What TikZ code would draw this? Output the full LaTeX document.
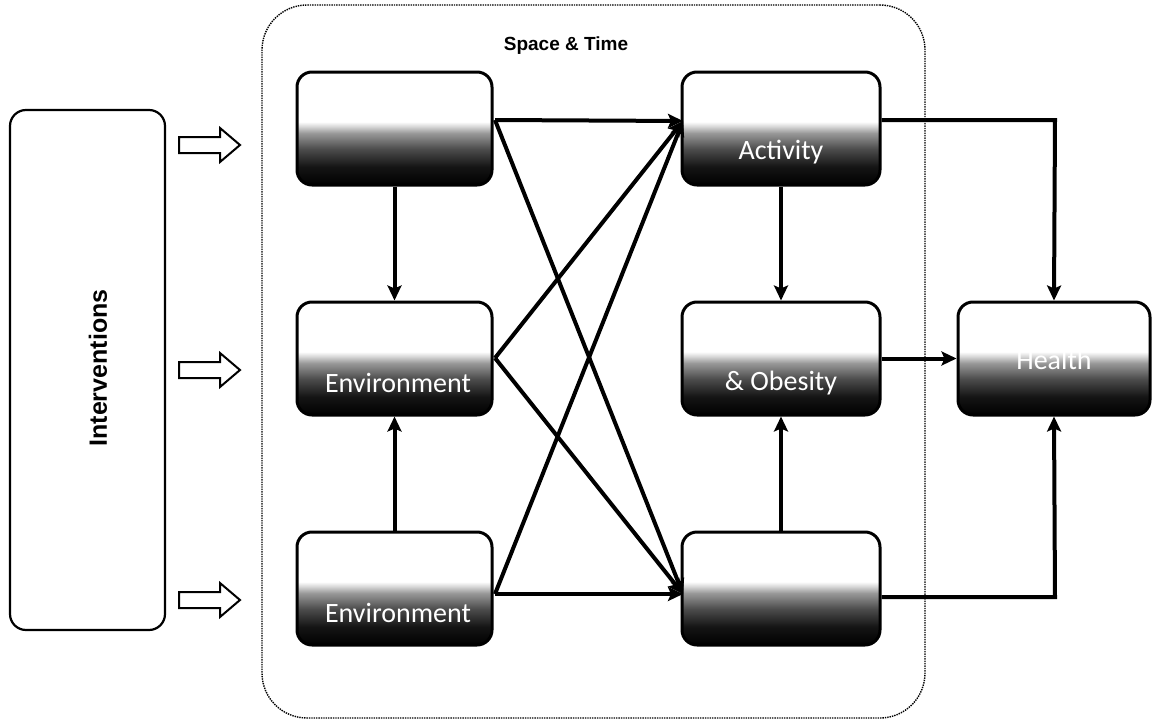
\documentclass[tikz,border=0pt]{standalone}
\usepackage{fontspec}
\setmainfont{Liberation Sans}
\newfontfamily\boxfont{Carlito}
\usetikzlibrary{arrows.meta}
\pgfdeclareverticalshading{boxshade}{100bp}{color(0bp)=(black); color(25bp)=(black); color(33bp)=(black!92); color(41bp)=(black!70); color(48bp)=(black!40); color(51bp)=(black!15); color(53bp)=(white); color(100bp)=(white)}
\begin{document}
\begin{tikzpicture}[x=1pt,y=-1pt,
  gbox/.style={draw=black, line width=3pt, rounded corners=15pt, shading=boxshade, minimum height=113pt, inner sep=0pt},
  lbl/.style={text=white, font=\boxfont\fontsize{28}{30}\selectfont, inner sep=0pt},
  conn/.style={line width=4pt, -{Stealth[length=15pt,width=14pt,inset=3pt]}},
  barrow/.style={draw=black, line width=2pt, fill=white, line join=miter}
]
\useasboundingbox (0,0) rectangle (1160,728);
% outer space & time frame
\node[draw=black, densely dotted, line width=1.4pt, rounded corners=45pt, minimum width=663pt, minimum height=713pt] (frame) at (593.5,361.5) {};
\node[font=\bfseries\fontsize{19}{21}\selectfont] (st) at (566,46) {Space \& Time};
% interventions
\node[draw=black, line width=2.2pt, rounded corners=16pt, minimum width=155pt, minimum height=520pt] (int) at (87.5,370) {};
\node[rotate=90, font=\bfseries\fontsize{25}{27}\selectfont] (intl) at (98,368) {Interventions};
% block arrows
\foreach \yy/\nm in {145/ba1,370/ba2,600/ba3}{
  \draw[barrow] (179,\yy-8) -- (220,\yy-8) -- (220,\yy-17) -- (240,\yy) -- (220,\yy+17) -- (220,\yy+8) -- (179,\yy+8) -- cycle;
}
% left column
\node[gbox, minimum width=195pt] (L1) at (394.5,128.5) {};
\node[gbox, minimum width=195pt] (L2) at (394.5,358.5) {};
\node[gbox, minimum width=195pt] (L3) at (394.5,588.5) {};
% right column
\node[gbox, minimum width=198pt] (R1) at (781,128.5) {};
\node[gbox, minimum width=198pt] (R2) at (781,358.5) {};
\node[gbox, minimum width=198pt] (R3) at (781,588.5) {};
\node[gbox, minimum width=192pt] (H) at (1054,358.5) {};
% labels
\node[lbl] (tR1) at (781,152) {Activity};
\node[lbl] (tL2) at (398,383) {Environment};
\node[lbl] (tL3) at (398,613) {Environment};
\node[lbl] (tR2) at (781,383) {\& Obesity};
\node[lbl] (tH) at (1054,360) {Health};
% connection points
\coordinate (pL1) at (495,120);
\coordinate (pL2) at (495,358);
\coordinate (pL3) at (495,594);
\coordinate (pR1) at (683,121);
\coordinate (pR3) at (683,594);
\coordinate (c1) at (1055,120);
\coordinate (c3) at (1055,597);
% connectors
\draw[conn] (pL1) -- (pR1);
\draw[conn] (pL1) -- (pR3);
\draw[conn] (pL2) -- (pR1);
\draw[conn] (pL2) -- (pR3);
\draw[conn] (pL3) -- (pR1);
\draw[conn] (pL3) -- (pR3);
\draw[conn] (L1.south) -- (L2.north);
\draw[conn] (L3.north) -- (L2.south);
\draw[conn] (R1.south) -- (R2.north);
\draw[conn] (R3.north) -- (R2.south);
\draw[conn] (R2.east) -- (H.west);
\draw[conn] (R1.east |- c1) -- (c1) -- (H.north);
\draw[conn] (R3.east |- c3) -- (c3) -- (H.south);
\end{tikzpicture}
\end{document}
